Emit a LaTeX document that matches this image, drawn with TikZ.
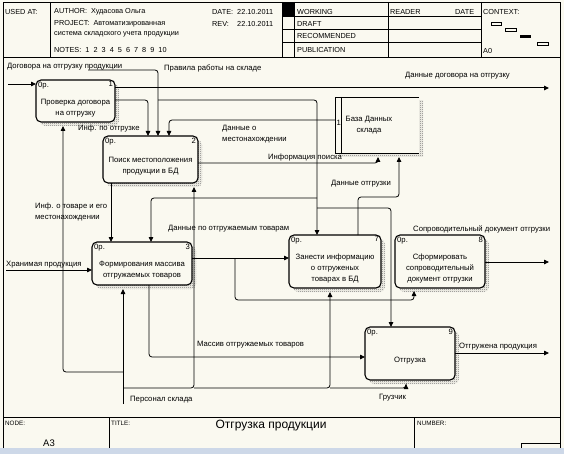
\documentclass[tikz,border=0pt]{standalone}
\usepackage{fontspec}
\setmainfont{Liberation Sans}
\usetikzlibrary{arrows.meta,patterns,calc}
\definecolor{bg}{RGB}{250,249,240}
\definecolor{barc}{RGB}{205,216,232}
\pgfdeclarepatternformonly{chk}{\pgfpointorigin}{\pgfpoint{2pt}{2pt}}{\pgfpoint{2pt}{2pt}}{%
  \pgfpathrectangle{\pgfpointorigin}{\pgfpoint{1pt}{1pt}}%
  \pgfpathrectangle{\pgfpoint{1pt}{1pt}}{\pgfpoint{1pt}{1pt}}%
  \pgfusepath{fill}}
\newcommand{\abox}[7]{%
  \fill[shd, rounded corners=5pt] (#2+4,#3+4) rectangle (#4+4,#5+4);
  \node[abx, minimum width={#4-#2}, minimum height={#5-#3}, anchor=north west] (#1) at (#2,#3) {};
  \node[lbl, anchor=north west] (#1p) at ([shift={(2,1.5)}]#1.north west) {0р.};
  \node[lbl, anchor=north east] (#1k) at ([shift={(-2,1.5)}]#1.north east) {#6};
  \node[btxt] (#1t) at ([shift={(0,7)}]#1.center) {#7};
}
\begin{document}
\begin{tikzpicture}[x=1pt,y=-1pt,
  lw/.style={line width=0.9pt},
  con/.style={line width=0.8pt, rounded corners=3pt},
  arr/.style={con, -{Triangle[length=5pt,width=4.5pt]}},
  lbl/.style={font=\fontsize{7.7}{9}\selectfont, inner sep=0pt, anchor=west},
  lbltwo/.style={font=\fontsize{7.7}{11.5}\selectfont, inner sep=0pt, anchor=west, align=left},
  hd/.style={font=\fontsize{7.3}{9}\selectfont, inner sep=0pt, anchor=west},
  sm/.style={font=\fontsize{6.3}{8}\selectfont, inner sep=0pt, anchor=west},
  btxt/.style={font=\fontsize{7.7}{10.8}\selectfont, align=center, inner sep=0pt},
  abx/.style={draw, line width=1.1pt, rounded corners=5pt, fill=bg, inner sep=0pt, outer sep=0pt},
  shd/.style={pattern=chk, pattern color=black!55},
]
\useasboundingbox (0,0) rectangle (564,454);
\fill[bg] (0,0) rectangle (564,454);
\fill[barc] (0,448) rectangle (564,454);

% frame
\draw[lw] (3,448) -- (3,2) -- (560,2) -- (560,448);
\draw[lw] (3,57) -- (560,57);
\draw[lw] (50,2) -- (50,57);
\draw[lw] (282,2) -- (282,57);
\draw[lw] (294,2) -- (294,57);
\draw[lw] (388,2) -- (388,57);
\draw[lw] (481,2) -- (481,57);
\fill (282,2) rectangle (294,16);
\draw[lw] (282,16) -- (481,16);
\draw[lw] (282,29) -- (481,29);
\draw[lw] (282,42) -- (481,42);
\draw[line width=0.6pt] (491,22) rectangle (501,25);
\draw[line width=0.6pt] (505,28) rectangle (516,31);
\fill (520,35) rectangle (531,38);
\draw[line width=0.6pt] (537,42) rectangle (548,45);

% header text
\node[hd] (h1) at (5,12) {USED AT:};
\node[hd] (h2) at (54,12) {AUTHOR:\ \ Худасова Ольга};
\node[hd] (h3) at (54,24) {PROJECT:\ \ Автоматизированная};
\node[hd] (h4) at (54,34.5) {система складского учета продукции};
\node[hd] (h5) at (54,50) {NOTES:\ \ 1\ \ 2\ \ 3\ \ 4\ \ 5\ \ 6\ \ 7\ \ 8\ \ 9\ \ 10};
\node[hd] (h6) at (212,12) {DATE:};
\node[hd] (h7) at (237,12) {22.10.2011};
\node[hd] (h8) at (212,24) {REV:};
\node[hd] (h9) at (237,24) {22.10.2011};
\node[hd] (h10) at (297,12) {WORKING};
\node[hd] (h11) at (297,24) {DRAFT};
\node[hd] (h12) at (297,36) {RECOMMENDED};
\node[hd] (h13) at (297,50) {PUBLICATION};
\node[hd] (h14) at (390,12) {READER};
\node[hd] (h15) at (455,12) {DATE};
\node[hd] (h16) at (483,12) {CONTEXT:};
\node[hd] (h17) at (483,51) {A0};

% footer
\draw[lw] (3,417) -- (560,417);
\draw[lw] (109,417) -- (109,448);
\draw[lw] (414,417) -- (414,448);
\draw[lw] (521,448) -- (521,443) -- (560,443);
\node[sm] (f1) at (5,423) {NODE:};
\node[sm] (f2) at (111,423) {TITLE:};
\node[sm] (f3) at (417,423) {NUMBER:};
\node[font=\fontsize{12}{14}\selectfont, inner sep=0pt] (title) at (271,426) {Отгрузка продукции};
\node[font=\fontsize{9.5}{11}\selectfont, inner sep=0pt] (nodeid) at (49,443) {A3};

% boxes
\abox{b1}{36}{80}{115}{122}{1}{Проверка договора\\на отгрузку}
\abox{b2}{103}{136}{198}{183}{2}{Поиск местоположения\\продукции в БД}
\abox{b3}{92}{242}{192}{285}{3}{Формирования массива\\отгружаемых товаров}
\abox{b7}{289}{235}{381}{288}{7}{Занести информацию\\о отгруженых\\товарах в БД}
\abox{b8}{395}{235}{485}{288}{8}{Сформировать\\сопроводительный\\документ отгрузки}
\abox{b9}{365}{327}{455}{380}{9}{Отгрузка}

% database
\fill[shd] (339,101) rectangle (423,157);
\node[minimum width=84, minimum height=56, anchor=north west, fill=bg, inner sep=0pt, outer sep=0pt] (db) at (335,97) {};
\draw[lw] (db.north east) -- (db.north west) -- (db.south west) -- (db.south east);
\draw[lw] ([xshift=6pt]db.north west) -- ([xshift=6pt]db.south west);
\node[lbl] (dbk) at (336.3,123) {1};
\node[btxt] (dbt) at (369,125) {База Данных\\склада};

% connectors
\coordinate (in1) at (8,84);
\draw[arr] (in1) -- (b1.west |- in1);
\coordinate (out1) at (549,88);
\draw[arr, line width=1pt] (b1.east |- out1) -- (out1);
\draw[arr] (b1.east |- 0,100) -| (b2.north -| 148,0);
\coordinate (pr) at (88,70);
\draw[arr] (pr) -| (b2.north -| 158,0);
\draw[arr] (158,100) -| (b7.north -| 317,0);
\draw[arr] (317,198) -| (b3.north -| 151,0);
\draw[arr] (317,208) -| (b9.north -| 391,0);
\draw[arr] (db.west |- 0,120) -| (b2.north -| 169,0);
\draw[arr] (b2.east |- 0,163) -| (378,157);
\draw[arr] (b7.north -| 358,0) |- (399,197) -- (399,157);
\draw[arr] (b2.south -| 111,0) -- (b3.north -| 111,0);
\coordinate (in3) at (6,270);
\draw[arr] (in3) -- (b3.west |- in3);
\draw[arr] (b3.east |- 0,258) -- (b7.west |- 0,258);
\draw[arr] (235,258) -- (235,300) -- (414,300) -- (414,291);
\draw[arr] (b8.east |- 0,262) -- (549,262);
\draw[arr] (b9.east |- 0,353) -- (549,353);
\draw[arr] (b3.south -| 149,0) |- (b9.west |- 0,357);
\draw[arr] (123,404) -- (123,289);
\draw[arr] (123,372) -| (63,126);
\draw[arr] (123,388) -| (194,187);
\draw[arr] (194,388) -| (330,292);
\draw[arr] (330,388) -| (406,384);

% labels
\node[lbl] (l1) at (7,67) {Договора на отгрузку продукции};
\node[lbl] (l2) at (164,68) {Правила работы на складе};
\node[lbl] (l3) at (405,76) {Данные договора на отгрузку};
\node[lbl] (l4) at (78,129) {Инф. по отгрузке};
\node[lbltwo] (l5) at (222,134) {Данные о\\местонахождении};
\node[lbl] (l6) at (268,158) {Информация поиска};
\node[lbl] (l7) at (331,184) {Данные отгрузки};
\node[lbltwo] (l8) at (35,212) {Инф. о товаре и его\\местонахождении};
\node[lbl] (l9) at (168,229) {Данные по отгружаемым товарам};
\node[lbl] (l10) at (6,265) {Хранимая продукция};
\node[lbl] (l11) at (413,229) {Сопроводительный документ отгрузки};
\node[lbl] (l12) at (197,345) {Массив отгружаемых товаров};
\node[lbl] (l13) at (459,347) {Отгружена продукция};
\node[lbl] (l14) at (130,400) {Персонал склада};
\node[lbl] (l15) at (379,398) {Грузчик};
\end{tikzpicture}
\end{document}
